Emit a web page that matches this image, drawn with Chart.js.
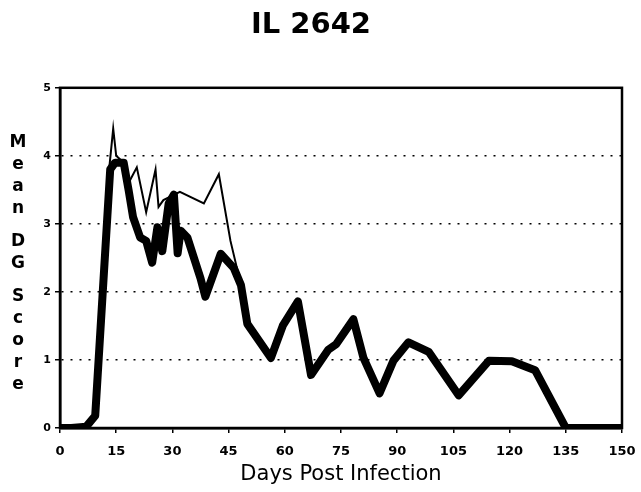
<!DOCTYPE html>
<html>
<head>
<meta charset="utf-8">
<script src="https://cdn.jsdelivr.net/npm/chart.js@4/dist/chart.umd.min.js"></script>
<style>
  html, body { margin: 0; padding: 0; background: #fff; }
  #wrap { position: relative; width: 641px; height: 492px; }
  #ylabel {
    position: absolute; left: 7px; top: 130px; width: 22px;
    font-family: "DejaVu Sans", sans-serif; font-weight: bold;
    font-size: 17px; line-height: 22px; text-align: center; color: #000;
  }
  #ylabel span { display: block; }
  #ylabel .gap { height: 11px; }
</style>
</head>
<body>
<div id="wrap">
  <canvas id="dgChart" width="641" height="492"></canvas>
  <div id="ylabel">
    <span>M</span><span>e</span><span>a</span><span>n</span><span class="gap"></span>
    <span>D</span><span>G</span><span class="gap"></span>
    <span>S</span><span>c</span><span>o</span><span>r</span><span>e</span>
  </div>
</div>
<script>
// chart data
var xTicks = [0, 15, 30, 45, 60, 75, 90, 105, 120, 135, 150];
var yTicks = [0, 1, 2, 3, 4, 5];

// thick line
var thickDays = [0, 3, 7, 9.4, 13.4, 14.7, 17, 18.3, 19.5, 21.4, 23, 24.6, 26, 27.3, 29, 30.4, 31.4, 32.2, 34, 37.5, 38.8,
        42.9, 46.4, 48.3, 50, 56.3, 59.5, 63.5, 67, 71.6, 73.7, 78.3, 81, 85.3, 89, 93, 98.4, 106.4, 114.5, 120.6, 126.8, 135, 150];
var thickScores = [0, 0, 0.02, 0.18, 3.8, 3.9, 3.9, 3.5, 3.1, 2.8, 2.75, 2.43, 2.95, 2.6, 3.3, 3.43, 2.57, 2.9, 2.8, 2.2, 1.93,
        2.56, 2.35, 2.1, 1.53, 1.03, 1.51, 1.86, 0.78, 1.15, 1.23, 1.6, 1.03, 0.51, 0.99, 1.26, 1.12, 0.48, 0.99, 0.98, 0.85, 0, 0];

// thin line (only where it leaves the thick one)
var thinDays = [13.2, 14.2, 15, 16.6, 18.3, 20.5, 23, 25.5, 26.3, 27.6, 32, 38.4, 42.4, 45.5, 48.3];
var thinScores = [3.85, 4.4, 4.0, 3.92, 3.6, 3.83, 3.17, 3.8, 3.25, 3.35, 3.47, 3.3, 3.73, 2.75, 2.1];

function toPoints(xs, ys) {
        return xs.map(function (x, i) { return { x: x, y: ys[i] }; });
}

var fontFam = '"DejaVu Sans", sans-serif';

// box round the plot area
var boxPlugin = {
        id: 'box',
        afterDraw: function (chart) {
                var a = chart.chartArea, c = chart.ctx;
                c.save();
                c.strokeStyle = '#000';
                c.lineWidth = 2.5;
                c.strokeRect(a.left, a.top, a.right - a.left, a.bottom - a.top);
                c.restore();
        }
};

var ctx = document.getElementById('dgChart').getContext('2d');
var dgChart = new Chart(ctx, {
        type: 'line',
        data: {
                datasets: [
                        {
                                label: 'thick',
                                data: toPoints(thickDays, thickScores),
                                borderColor: '#000',
                                borderWidth: 8,
                                borderJoinStyle: 'round',
                                borderCapStyle: 'round',
                                pointRadius: 0,
                                tension: 0
                        },
                        {
                                label: 'thin',
                                data: toPoints(thinDays, thinScores),
                                borderColor: '#000',
                                borderWidth: 2,
                                pointRadius: 0,
                                tension: 0
                        }
                ]
        },
        options: {
                responsive: false,
                animation: false,
                layout: { padding: { left: 0, right: 19, top: 0, bottom: 5 } },
                plugins: {
                        legend: { display: false },
                        tooltip: { enabled: false },
                        title: {
                                display: true,
                                text: 'IL 2642',
                                color: '#000',
                                font: { family: fontFam, size: 29, weight: 'bold' },
                                padding: { top: 8, bottom: 45 }
                        }
                },
                scales: {
                        x: {
                                type: 'linear',
                                min: 0,
                                max: 150,
                                afterBuildTicks: function (scale) {
                                        scale.ticks = xTicks.map(function (v) { return { value: v }; });
                                },
                                afterFit: function (scale) {
                                        scale.height = 59;
                                        scale.paddingRight = 0;
                                        scale.paddingLeft = 0;
                                },
                                grid: { drawOnChartArea: false, tickLength: 5, tickColor: '#000', lineWidth: 1.5 },
                                border: { display: true, color: '#000', width: 2.5 },
                                ticks: {
                                        color: '#000',
                                        padding: 11,
                                        maxRotation: 0,
                                        font: { family: fontFam, size: 13, weight: 'bold' }
                                },
                                title: {
                                        display: true,
                                        text: 'Days Post Infection',
                                        color: '#000',
                                        padding: { top: 0, bottom: 0 },
                                        font: { family: fontFam, size: 21 }
                                }
                        },
                        y: {
                                min: 0,
                                max: 5,
                                afterBuildTicks: function (scale) {
                                        scale.ticks = yTicks.map(function (v) { return { value: v }; });
                                },
                                afterFit: function (scale) { scale.width = 60; },
                                grid: {
                                        color: function (c) {
                                                return (c.tick && (c.tick.value === 0 || c.tick.value === 5)) ? 'rgba(0,0,0,0)' : '#000';
                                        },
                                        lineWidth: 1.5,
                                        tickLength: 5,
                                        tickColor: '#000'
                                },
                                border: { display: true, color: '#000', width: 2.5 },
                                ticks: {
                                        color: '#000',
                                        padding: 4,
                                        font: { family: fontFam, size: 11, weight: 'bold' }
                                }
                        }
                }
        },
        plugins: [boxPlugin]
});
// dotted grid lines
dgChart.options.scales.y.grid.borderDash = [2, 7];
dgChart.options.scales.y.border.dash = [2, 7];
dgChart.update();
</script>
</body>
</html>
